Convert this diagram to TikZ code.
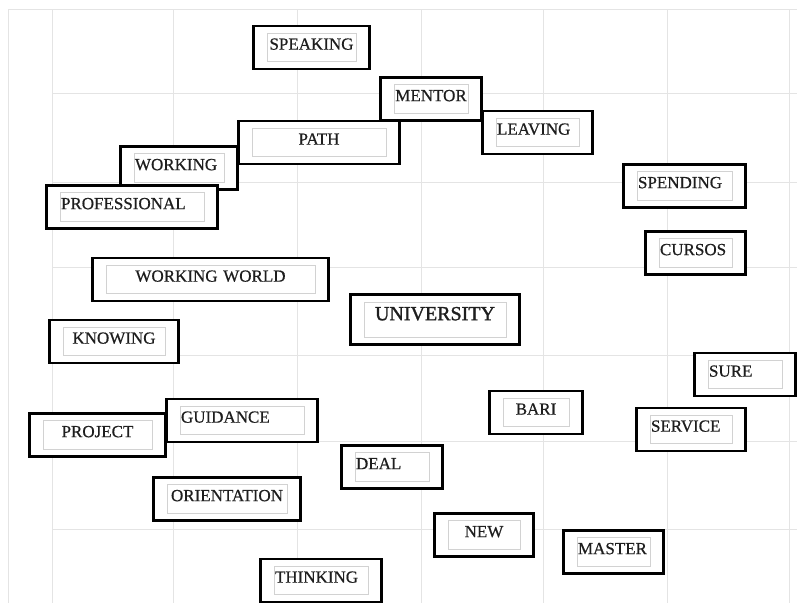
\documentclass[tikz,border=0pt]{standalone}
\usepackage{fontspec}
\setmainfont{Liberation Serif}
\newfontfamily\wordfamily{Liberation Serif}[FakeBold=0.6]
\newfontfamily\bigwordfamily{Liberation Serif}[FakeBold=1.4]
\usetikzlibrary{fit}
\definecolor{gridgray}{RGB}{228,228,228}
\definecolor{boxgray}{RGB}{210,210,210}
\definecolor{inkgray}{RGB}{30,30,30}
\newcommand{\wordfont}{\wordfamily\fontsize{17}{19}\selectfont}
\newcommand{\bigwordfont}{\bigwordfamily\fontsize{20}{22}\selectfont}
\pgfdeclarelayer{back}
\pgfsetlayers{back,main}
\tikzset{
  word-box/.style={
    draw=boxgray,
    line width=0.8pt,
    fill=white,
    text=inkgray,
    font=\wordfont,
    text height=11.3pt,
    text depth=7pt,
    inner xsep=1pt,
    inner ysep=5pt,
    text width=#1,
    align=left
  },
  word-box-c/.style={word-box=#1, align=center},
  word-frame/.style={draw=black, line width=2.6pt, fill=white, inner xsep=13pt, inner ysep=7pt},
  grid-line/.style={draw=gridgray, line width=0.8pt}
}

\begin{document}
\begin{tikzpicture}[x=1pt, y=-1pt]
  \useasboundingbox (0,0) rectangle (805,603);

  % Words (top half)
  \node[word-box-c=87pt] (speaking) at (311.5,47.5) {SPEAKING};
  \node[word-box-c=72pt] (mentor) at (431,99) {MENTOR};
  \node[word-box-c=132pt] (path) at (319,142.5) {PATH};
  \node[word-box=81pt] (leaving) at (537.5,132.5) {LEAVING};
  \node[word-box=88pt] (working) at (179,168) {WORKING};
  \node[word-box=142pt] (professional) at (132,207) {PROFESSIONAL};
  \node[word-box=93pt] (spending) at (684.5,186) {SPENDING};
  \node[word-box=71pt] (cursos) at (695.5,253) {CURSOS};
  \node[word-box-c=207pt] (workingworld) at (210.5,279.5) {WORKING WORLD};
  \node[word-box-c=140pt, font=\bigwordfont, text height=13.2pt, text depth=11.8pt] (university) at (435,319.5) {UNIVERSITY};
  % Words (bottom half)
  \node[word-box-c=100pt] (knowing) at (114,341.5) {KNOWING};
  \node[word-box-c=107pt] (project) at (97.5,435) {PROJECT};
  \node[word-box=122pt] (guidance) at (242,420.5) {GUIDANCE};
  \node[word-box-c=118pt] (orientation) at (227,499) {ORIENTATION};
  \node[word-box=92pt] (thinking) at (321,580.5) {THINKING};
  \node[word-box=72pt] (deal) at (392,467) {DEAL};
  \node[word-box-c=64pt] (bari) at (536,412.5) {BARI};
  \node[word-box=72pt] (sure) at (745,374.5) {SURE};
  \node[word-box=80pt] (service) at (691,429.5) {SERVICE};
  \node[word-box-c=70pt] (new) at (484,535) {NEW};
  \node[word-box=71pt] (master) at (613.5,552) {MASTER};

  % Grid and frames behind the words
  \begin{pgfonlayer}{back}
    \draw[grid-line] (8,603) -- (8,9) -- (797,9);
    \foreach \x in {52,173,297,421,543,667,789}
      \draw[grid-line] (\x,9) -- (\x,603);
    \foreach \y in {93,182,267,355,441,529}
      \draw[grid-line] (52,\y) -- (797,\y);
    \foreach \n in {speaking,mentor,path,leaving,working,professional,spending,cursos,workingworld,university,
                    knowing,project,guidance,orientation,thinking,deal,bari,sure,service,new,master}
      \node[word-frame, fit=(\n)] (\n-frame) {};
  \end{pgfonlayer}
\end{tikzpicture}
\end{document}
